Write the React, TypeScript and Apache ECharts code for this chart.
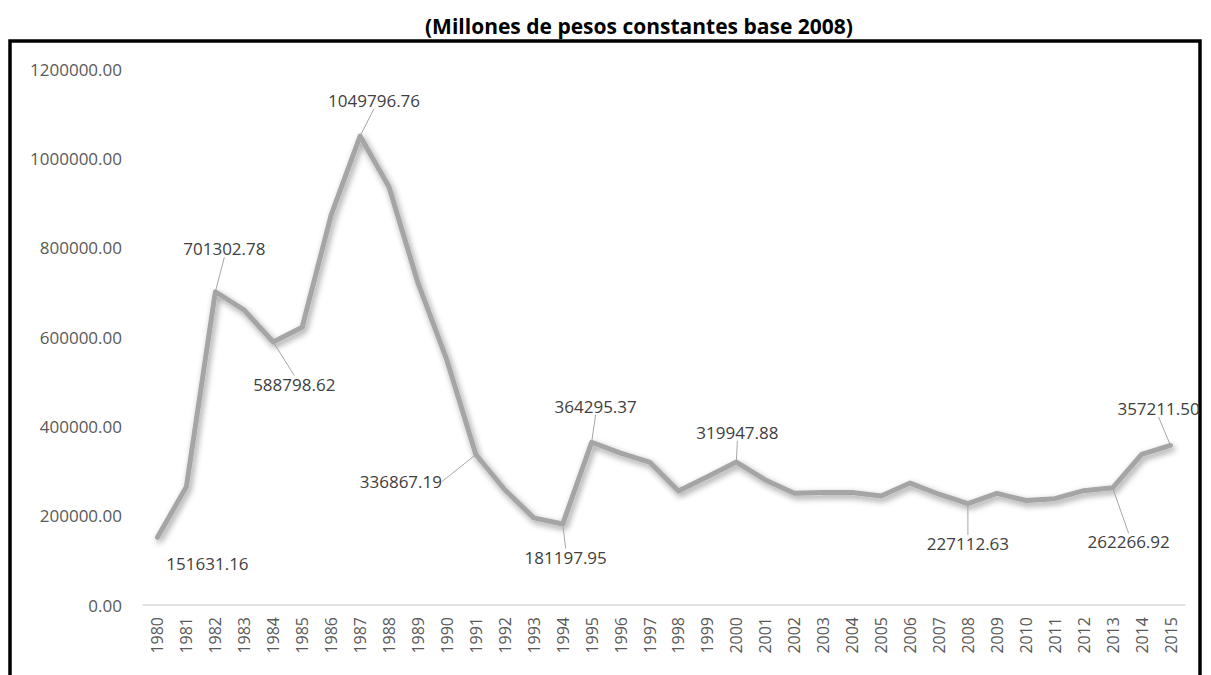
import React, { useEffect, useRef } from "react";
import * as echarts from "echarts";

const years: string[] = [
  "1980", "1981", "1982", "1983", "1984", "1985", "1986", "1987", "1988", "1989",
  "1990", "1991", "1992", "1993", "1994", "1995", "1996", "1997", "1998", "1999",
  "2000", "2001", "2002", "2003", "2004", "2005", "2006", "2007", "2008", "2009",
  "2010", "2011", "2012", "2013", "2014", "2015",
];

const values: number[] = [
  151631.16, 265000, 701302.78, 660000, 588798.62, 622000, 873000, 1049796.76, 936000, 721000,
  548000, 336867.19, 258000, 195000, 181197.95, 364295.37, 340000, 320000, 255000, 287000,
  319947.88, 280000, 250000, 252000, 252000, 244000, 273000, 248000, 227112.63, 250000,
  234000, 238000, 256000, 262266.92, 337000, 357211.5,
];

const labeledYears: string[] = [
  "1980", "1982", "1984", "1987", "1991", "1994", "1995", "2000", "2008", "2013", "2015",
];

const noLeaderYears: string[] = ["1980"];

const yTicks = { min: 0, max: 1200000, interval: 200000 };

// label offsets (label centre relative to its point), styling only
const labelOffsets: Record<string, [number, number]> = {
  "1980": [50, 26],
  "1982": [9, -43],
  "1984": [21, 42],
  "1987": [14, -36],
  "1991": [-75, 27],
  "1994": [3, 33],
  "1995": [4, -36],
  "2000": [1, -30],
  "2008": [0, 40],
  "2013": [16, 54],
  "2015": [-12, -37],
};

export default function App() {
  const ref = useRef<HTMLDivElement>(null);

  useEffect(() => {
    if (!ref.current) return;
    const chart = echarts.init(ref.current, undefined, { renderer: "svg" });
    const font = "'Open Sans', sans-serif";
    const data = values.map((v, i) => {
      const show = labeledYears.includes(years[i]);
      return {
        value: v,
        label: { show },
        labelLine: { show: show && !noLeaderYears.includes(years[i]) },
      };
    });
    chart.setOption({
      animation: false,
      backgroundColor: "#ffffff",
      title: {
        text: "(Millones de pesos constantes base 2008)",
        left: 420,
        top: 10,
        textStyle: {
          fontFamily: font,
          fontWeight: "bold",
          fontSize: 21,
          color: "#000000",
        },
      },
      graphic: [
        {
          type: "rect",
          z: -10,
          shape: { x: 10, y: 41, width: 1190, height: 700 },
          style: { fill: "none", stroke: "#000000", lineWidth: 3.5 },
        },
      ],
      grid: { left: 143, right: 26, top: 69, bottom: 70, containLabel: false },
      xAxis: {
        type: "category",
        data: years,
        boundaryGap: true,
        axisLine: { show: true, lineStyle: { color: "#D9D9D9", width: 1.5 } },
        axisTick: { show: false },
        axisLabel: {
          rotate: 90,
          margin: 12,
          fontFamily: font,
          fontSize: 16,
          color: "#595959",
          interval: 0,
        },
        splitLine: { show: false },
      },
      yAxis: {
        type: "value",
        min: yTicks.min,
        max: yTicks.max,
        interval: yTicks.interval,
        axisLine: { show: false },
        axisTick: { show: false },
        splitLine: { show: false },
        axisLabel: {
          margin: 21,
          fontFamily: font,
          fontSize: 17,
          color: "#595959",
          formatter: (v: number) => v.toFixed(2),
        },
      },
      series: [
        {
          type: "line",
          data,
          symbol: "circle",
          symbolSize: 1,
          showSymbol: true,
          itemStyle: { color: "rgba(165,165,165,0)" },
          lineStyle: {
            color: "#A5A5A5",
            width: 5,
            join: "round",
            cap: "round",
            shadowColor: "rgba(0,0,0,0.4)",
            shadowBlur: 6,
            shadowOffsetX: 2,
            shadowOffsetY: 3,
          },
          label: {
            show: false,
            position: "inside",
            fontFamily: font,
            fontSize: 17,
            color: "#404040",
            formatter: (p: any) => Number(p.value).toFixed(2),
          },
          labelLine: {
            show: false,
            lineStyle: { color: "#A6A6A6", width: 1 },
          },
          labelLayout: (p: any) => {
            const off = labelOffsets[years[p.dataIndex]];
            if (!off) return {};
            return { dx: off[0], dy: off[1] };
          },
        },
      ],
    });
    return () => chart.dispose();
  }, []);

  return (
    <div
      ref={ref}
      style={{ position: "absolute", left: 0, top: 0, width: 1211, height: 675 }}
    />
  );
}
